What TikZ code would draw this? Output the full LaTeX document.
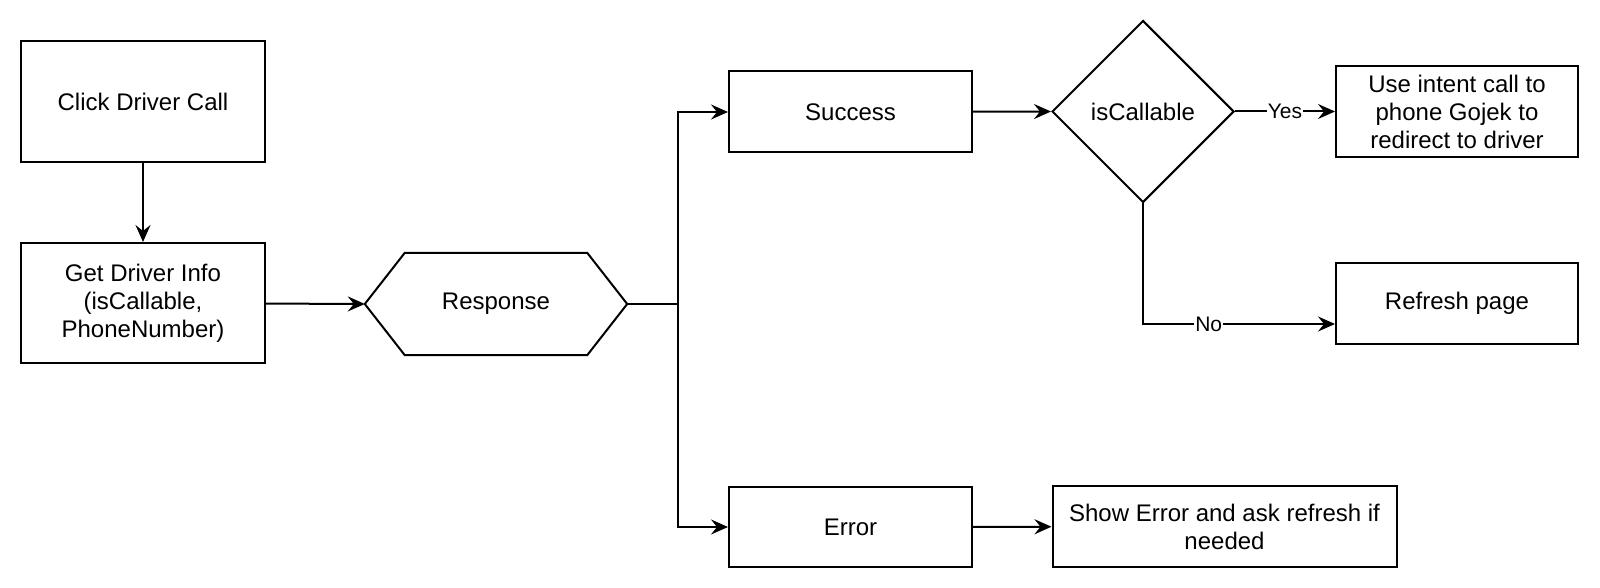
\documentclass[tikz,border=0pt]{standalone}
\usepackage{fontspec}
\setmainfont{Liberation Sans}
\usetikzlibrary{shapes.geometric,arrows.meta}
\begin{document}
\begin{tikzpicture}[x=1pt,y=-1pt,
  every node/.style={font=\fontsize{24pt}{28pt}\selectfont, align=center},
  box/.style={draw, line width=2pt, rectangle, inner sep=0pt},
  dec/.style={draw, line width=2pt, diamond, aspect=1, inner sep=0pt, minimum width=182pt, minimum height=182pt},
  conn/.style={line width=2pt},
  arr/.style={line width=2pt, -{Stealth[length=17pt,width=15pt,inset=6pt]}},
  lbl/.style={fill=white, inner sep=1pt, font=\fontsize{21pt}{25pt}\selectfont}
]
\useasboundingbox (0,0) rectangle (1600,588);

\node[box, minimum width=244pt, minimum height=121pt] (click) at (143,101.5) {Click Driver Call};
\node[box, minimum width=244pt, minimum height=120pt] (info) at (143,303) {Get Driver Info\\(isCallable,\\PhoneNumber)};
\node[minimum width=262pt, minimum height=102pt, inner sep=0pt] (resp) at (496,304) {Response};
\draw[line width=2pt, line join=miter] (resp.west) -- ([xshift=40pt]resp.north west) -- ([xshift=-40pt]resp.north east) -- (resp.east) -- ([xshift=-40pt]resp.south east) -- ([xshift=40pt]resp.south west) -- cycle;
\coordinate (br) at (678,304);
\node[box, minimum width=243pt, minimum height=81pt] (success) at (850.5,112) {Success};
\node[box, minimum width=243pt, minimum height=80pt] (error) at (850.5,527) {Error};
\node[dec] (dia) at (1143,111.5) {isCallable};
\node[box, minimum width=242pt, minimum height=91pt] (intent) at (1457,111.5) {Use intent call to\\phone Gojek to\\redirect to driver};
\node[box, minimum width=242pt, minimum height=81pt] (refresh) at (1457,303.5) {Refresh page};
\node[box, minimum width=344pt, minimum height=81pt] (showerr) at (1224.5,526.5) {Show Error and ask refresh if\\needed};

\draw[arr] (click) -- (info);
\draw[arr] (info) -- (resp.west);
\draw[conn] (resp.east) -- (br);
\draw[arr] (br) |- (success.west);
\draw[arr] (br) |- (error.west);
\draw[arr] (success) -- (dia.west);
\draw[arr] (dia.east) -- node[lbl] {Yes} (intent.west);
\draw[arr] (dia.south) |- node[lbl, pos=0.671] {No} ([yshift=-20.5pt]refresh.west);
\draw[arr] (error) -- (showerr);
\end{tikzpicture}
\end{document}
